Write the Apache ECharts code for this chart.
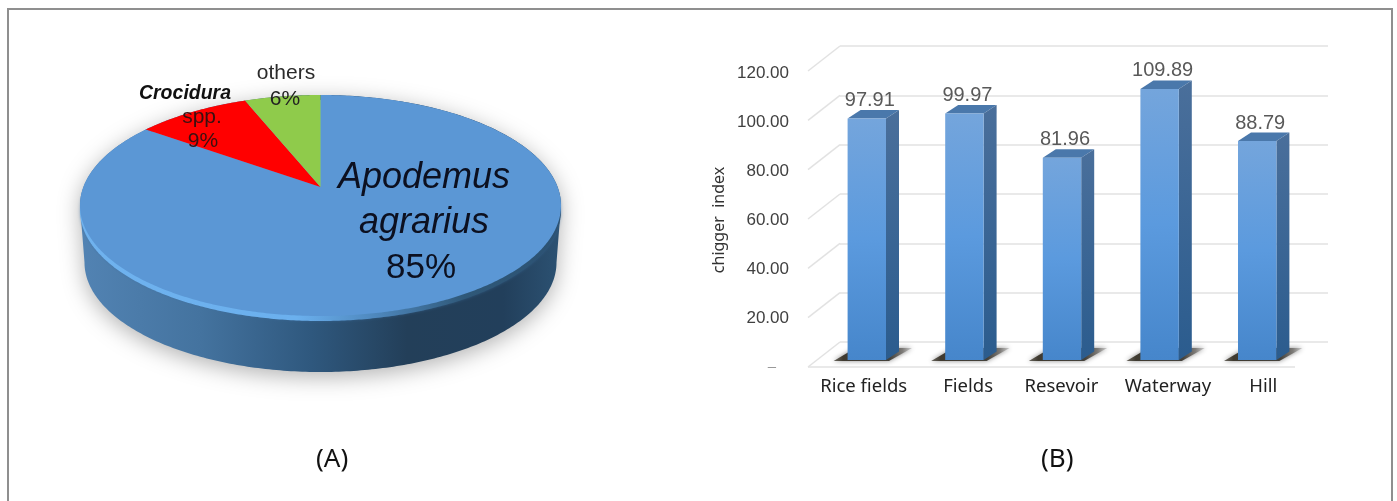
<!DOCTYPE html>
<html>
<head>
<meta charset="utf-8">
<style>html,body{margin:0;padding:0;background:#fff}#main{width:1397px;height:501px}</style>
<script src="https://cdn.jsdelivr.net/npm/echarts@6/dist/echarts.min.js"></script>
</head>
<body>
<div id="main"></div>
<script>
// Host species shares (panel A)
const speciesNames = ['Apodemus agrarius', 'Crocidura spp.', 'others'];
const speciesShares = [85, 9, 6];
const speciesColors = ['#5b97d5', '#ff0000', '#8fcb4b'];

// Chigger index per habitat (panel B)
const habitats = ['Rice fields', 'Fields', 'Resevoir', 'Waterway', 'Hill'];
const chiggerIndex = [97.91, 99.97, 81.96, 109.89, 88.79];
const valueTicks = [0, 20, 40, 60, 80, 100, 120];
const valueTickLabels = ['–', '20.00', '40.00', '60.00', '80.00', '100.00', '120.00'];
const habitatLabelShift = [7, 14, 10, 19, 17];

// Pie disc: a circle seen in perspective, so its centre sits above the middle of the outline
const disc = { cx: 320.5, apexY: 187, topY: 95, bottomY: 316, halfWidth: 240.5, thickness: 55 };
const far = disc.apexY - disc.topY, near = disc.bottomY - disc.apexY;
const persp = (near - far) / (near + far);
const depthGain = far * (1 + persp);
const widthGain = disc.halfWidth * Math.sqrt(1 - persp * persp);

// Angle is measured clockwise from twelve o'clock
function discPoint(angle) {
  const w = 1 + persp * Math.cos(angle);
  return [disc.cx + widthGain * Math.sin(angle) / w, disc.apexY - depthGain * Math.cos(angle) / w];
}
function arcPoints(from, to, dy) {
  const pts = [];
  const n = Math.max(2, Math.ceil(Math.abs(to - from) / 0.01));
  for (let i = 0; i <= n; i++) {
    const p = discPoint(from + (to - from) * i / n);
    pts.push([p[0], p[1] + (dy || 0)]);
  }
  return pts;
}
function hGradient(stops) {
  return { type: 'linear', x: 0, y: 0, x2: 1, y2: 0,
    colorStops: stops.map(s => ({ offset: s[0], color: s[1] })) };
}
function vGradient(stops) {
  return { type: 'linear', x: 0, y: 0, x2: 0, y2: 1,
    colorStops: stops.map(s => ({ offset: s[0], color: s[1] })) };
}

// Outer wall of the disc and the bevel along its near rim
function renderDiscBody() {
  const ey = (disc.topY + disc.bottomY) / 2, ry = (disc.bottomY - disc.topY) / 2;
  const pts = [];
  for (let i = 0; i <= 200; i++) {
    const t = Math.PI + Math.PI * i / 200;
    pts.push([disc.cx + disc.halfWidth * Math.cos(t), ey + ry * Math.sin(t)]);
  }
  const lowRx = disc.halfWidth - 4.5, lowRy = ry - 1;
  const lowCy = ey + disc.thickness + 2;
  for (let i = 0; i <= 200; i++) {
    const t = Math.PI * i / 200;
    pts.push([disc.cx + lowRx * Math.cos(t), lowCy + lowRy * Math.sin(t)]);
  }
  return {
    type: 'group',
    children: [
      { type: 'polygon', shape: { points: pts }, style: {
          fill: hGradient([[0, '#5283b3'], [0.25, '#44739f'], [0.48, '#2f587e'], [0.68, '#233f59'], [0.88, '#223f5b'], [1, '#2c5273']]),
          shadowColor: 'rgba(0,0,0,0.3)', shadowBlur: 22, shadowOffsetY: 5 } },
      { type: 'polygon', shape: { points: arcPoints(0, Math.PI * 2, 5) }, style: {
          fill: hGradient([[0, '#6fb2ee'], [0.45, '#6bb0ee'], [0.62, '#4d86bb'], [0.8, '#2f5878'], [1, '#2c5273']]),
          shadowColor: 'rgba(60,110,160,0.5)', shadowBlur: 3 } }
    ]
  };
}

// Each wedge runs counter-clockwise from twelve o'clock, last category first
const shareTotal = speciesShares.reduce((a, b) => a + b, 0);
function renderSlice(params, api) {
  const i = params.dataIndex;
  let before = 0;
  for (let k = i + 1; k < speciesShares.length; k++) before += api.value(0, k);
  const start = -before / shareTotal * Math.PI * 2;
  const end = start - api.value(0) / shareTotal * Math.PI * 2;
  const pts = [[disc.cx, disc.apexY]].concat(arcPoints(start, end));
  return { type: 'polygon', shape: { points: pts }, style: { fill: speciesColors[i] } };
}

// Labels written on top of the disc
const pieTextLines = [
  ['Apodemus', 424, 178, 'italic 36px "Liberation Sans"', '#0c1020'],
  ['agrarius', 424, 223, 'italic 36px "Liberation Sans"', '#0c1020'],
  ['85%', 421, 268, '35px "Liberation Sans"', '#0c1020'],
  ['others', 286, 73, '21px "Liberation Sans"', '#2b2b2b'],
  ['6%', 285, 99, '21px "Liberation Sans"', '#222222'],
  ['Crocidura', 185, 94, 'italic bold 19.5px "Liberation Sans"', '#111111'],
  ['spp.', 202, 117, '21px "Liberation Sans"', '#3a1010'],
  ['9%', 203, 141, '21px "Liberation Sans"', '#3a1010']
];
function renderPieText(params) {
  const l = pieTextLines[params.dataIndex];
  return { type: 'text', style: { text: l[0], x: l[1], y: l[2], font: l[3], fill: l[4], align: 'center', verticalAlign: 'middle' } };
}

// Bars stand partway into the floor, between the front edge and the back wall
const barHalf = 19.2, sideDx = 13, sideDy = 8.5, barShiftX = -22, barShiftY = 18;
function renderBar(params, api) {
  const base = api.coord([api.value(0), 0]);
  const top = api.coord([api.value(0), api.value(1)]);
  const x0 = base[0] + barShiftX - barHalf, x1 = base[0] + barShiftX + barHalf;
  const y0 = base[1] + barShiftY, y1 = top[1] + barShiftY;
  return {
    type: 'group',
    children: [
      { type: 'polygon', shape: { points: [[x0 - 14, y0 + 1], [x1 + 3, y0 + 1], [x1 + 26, y0 - 12], [x0 + 8, y0 - 12]] },
        style: { fill: hGradient([[0, '#6b6860'], [0.12, '#3f3a30'], [0.72, '#45423c'], [0.88, '#7d7b78'], [1, '#cfcfcf']]),
          shadowColor: 'rgba(0,0,0,0.45)', shadowBlur: 5 } },
      { type: 'polygon', shape: { points: [[x0, y1], [x1, y1], [x1 + sideDx, y1 - sideDy], [x0 + sideDx, y1 - sideDy]] },
        style: { fill: '#4a78ab' } },
      { type: 'polygon', shape: { points: [[x1, y1], [x1 + sideDx, y1 - sideDy], [x1 + sideDx, y0 - sideDy], [x1, y0]] },
        style: { fill: vGradient([[0, '#4a6f9b'], [1, '#2b5c8e']]) } },
      { type: 'rect', shape: { x: x0, y: y1, width: x1 - x0, height: y0 - y1 },
        style: { fill: vGradient([[0, '#74a5dc'], [0.5, '#5b9ade'], [1, '#4686cb']]) } },
      { type: 'text', style: { text: api.value(1).toFixed(2), x: (x0 + x1) / 2 + 3, y: y1 - 18,
          font: '20px "Liberation Sans"', fill: '#595959', align: 'center', verticalAlign: 'middle' } }
    ]
  };
}

// Diagonals joining the back wall to the front edge, plus the front floor edge
const floorDx = -32, floorDy = 25;
function renderFloorLines(params, api) {
  const p = api.coord([0, api.value(0)]);
  const left = params.coordSys.x;
  const kids = [{ type: 'line', shape: { x1: left, y1: p[1], x2: left + floorDx, y2: p[1] + floorDy },
    style: { stroke: '#e2e2e2', lineWidth: 1.5 } }];
  if (api.value(0) === 0) {
    kids.push({ type: 'line', shape: { x1: left + floorDx, y1: p[1] + floorDy, x2: left + floorDx + params.coordSys.width - 1, y2: p[1] + floorDy },
      style: { stroke: '#e2e2e2', lineWidth: 1.5 } });
  }
  return { type: 'group', children: kids };
}

const habitatRich = {};
habitats.forEach((h, i) => {
  habitatRich['c' + i] = { fontFamily: 'Noto Sans', fontSize: 18.5, color: '#222222', padding: [0, 0, 0, habitatLabelShift[i] * 2] };
});

const chart = echarts.init(document.getElementById('main'), null, { renderer: 'canvas' });
chart.setOption({
  animation: false,
  backgroundColor: '#ffffff',
  grid: [
    { left: 840, top: 46, width: 488, height: 296 },
    { left: 808, top: 73, width: 487, height: 294 }
  ],
  xAxis: [
    { gridIndex: 0, type: 'category', data: habitats, axisLine: { show: false }, axisTick: { show: false }, axisLabel: { show: false } },
    { gridIndex: 1, type: 'category', data: habitats, axisLine: { show: false }, axisTick: { show: false },
      axisLabel: { margin: 10, interval: 0, rich: habitatRich,
        formatter: (v, i) => '{c' + i + '|' + v + '}' } }
  ],
  yAxis: [
    { gridIndex: 0, type: 'value', min: 0, max: 120, interval: 20,
      axisLine: { show: false }, axisTick: { show: false }, axisLabel: { show: false },
      splitLine: { lineStyle: { color: '#e2e2e2', width: 1.5 } } },
    { gridIndex: 1, type: 'value', min: 0, max: 120, interval: 20,
      name: 'chigger  index', nameLocation: 'middle', nameGap: 81, nameRotate: 90,
      nameTextStyle: { fontFamily: 'Noto Sans', fontSize: 16, color: '#333333' },
      axisLine: { show: false }, axisTick: { show: false }, splitLine: { show: false },
      axisLabel: { margin: 19, color: '#404040', fontFamily: 'Liberation Sans', fontSize: 17,
        rich: { dash: { color: '#999999', fontSize: 15, padding: [0, 13, 0, 0] } },
        formatter: v => {
          const t = valueTickLabels[valueTicks.indexOf(v)];
          return v === 0 ? '{dash|' + t + '}' : t;
        } } }
  ],
  graphic: [
    { type: 'polyline', z: 100, shape: { points: [[8, 501], [8, 9], [1392, 9], [1392, 501]] },
      style: { stroke: '#8f8f8f', lineWidth: 2, fill: null } },
    { type: 'text', left: 316, top: 447, style: { text: '(A)', font: '26px "Noto Sans"', fill: '#111111' } },
    { type: 'text', left: 1041, top: 447, style: { text: '(B)', font: '26px "Noto Sans"', fill: '#111111' } }
  ],
  series: [
    { type: 'custom', coordinateSystem: 'none', z: 1, data: [[0]], renderItem: renderDiscBody, silent: true },
    { type: 'custom', coordinateSystem: 'none', z: 2, name: 'species',
      data: speciesNames.map((n, i) => ({ name: n, value: [speciesShares[i]] })), renderItem: renderSlice, silent: true },
    { type: 'custom', coordinateSystem: 'none', z: 3, data: pieTextLines.map((l, i) => [i]), renderItem: renderPieText, silent: true },
    { type: 'custom', xAxisIndex: 0, yAxisIndex: 0, z: 1, data: valueTicks.map(v => [v]),
      encode: { y: 0 }, renderItem: renderFloorLines, silent: true },
    { type: 'custom', xAxisIndex: 0, yAxisIndex: 0, z: 2, name: 'chigger index',
      data: chiggerIndex.map((v, i) => [i, v]), encode: { x: 0, y: 1 }, renderItem: renderBar, silent: true }
  ]
});
</script>
</body>
</html>
